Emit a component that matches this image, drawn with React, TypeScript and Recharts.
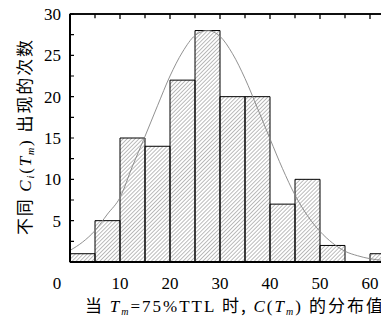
import { ComposedChart, Bar, Line, XAxis, YAxis } from 'recharts'

// histogram bins (lower edge) and how many times each value occurred
const binStarts = [0, 5, 10, 15, 20, 25, 30, 35, 40, 45, 50, 55, 60]
const counts = [1, 5, 15, 14, 22, 28, 20, 20, 7, 10, 2, 0, 1]

// fitted curve
const curveX = [0, 2.5, 5, 7.5, 10, 12.5, 15, 17.5, 20, 22.5, 25, 27.5, 30, 32.5, 35, 37.5, 40, 42.5, 45, 47.5, 50, 52.5, 55, 57.5, 60, 62.5, 65]
const curveY = [1.4, 2.4, 3.8, 5.8, 7.8, 11.6, 15.2, 18.9, 22.5, 25.4, 27.4, 28, 27.3, 25.2, 22.2, 18.6, 14.9, 11.3, 8.1, 5.6, 3.7, 2.3, 1.3, 0.76, 0.4, 0.2, 0.1]

const xTicks = [0, 10, 20, 30, 40, 50, 60]
const topTicks = [5, 10, 15, 20, 25, 30, 35, 40, 45, 50, 55, 60]
const yTicks = [0, 2.5, 5, 7.5, 10, 12.5, 15, 17.5, 20, 22.5, 25, 27.5, 30]

const X_MAX = 65
const Y_MAX = 30

const SERIF = '"Liberation Serif", "DejaVu Serif", serif'
const CJK = '"Noto Sans CJK SC", sans-serif'

const bins = binStarts.map((b, i) => ({ bin: `${b}-${b + 5}`, count: counts[i] }))
const curve = curveX.map((x, i) => ({ x, y: curveY[i] }))

// frame lines + inward tick combs, drawn as line series through the axes
const leftFrame = [{ x: 0, y: 0 }, { x: 0, y: Y_MAX }]
const bottomFrame = [{ x: 0, y: 0 }, { x: X_MAX, y: 0 }]
const leftTicks = yTicks.flatMap((v) => [{ x: 0, y: v }, { x: 0.8, y: v }, { x: 0, y: v }])
const topFrame = [
  { x: 0, y: Y_MAX },
  ...topTicks.flatMap((v) => [
    { x: v, y: Y_MAX },
    { x: v, y: v % 10 === 0 ? Y_MAX - 0.6 : Y_MAX - 0.5 },
    { x: v, y: Y_MAX },
  ]),
  { x: X_MAX, y: Y_MAX },
]

const XTick = (props: any) => {
  const { x, y, payload } = props
  // the "0" sits off to the left in the original
  const dx = payload.value === 0 ? -13 : 0
  return (
    <text x={x + dx} y={y + 13.5} dy="0.71em" textAnchor="middle" fontFamily={SERIF} fontSize={17} fill="#000">
      {payload.value}
    </text>
  )
}

const YTick = (props: any) => {
  const { x, y, payload } = props
  if (payload.value === 0 || payload.value % 5 !== 0) return <g />
  return (
    <text x={x - 9} y={y} dy="0.35em" textAnchor="end" fontFamily={SERIF} fontSize={17} fill="#000">
      {payload.value}
    </text>
  )
}

const frameLine = (key: string, data: { x: number; y: number }[], width: number) => (
  <Line
    key={key}
    xAxisId="num"
    data={data}
    dataKey="y"
    type="linear"
    stroke="#000"
    strokeWidth={width}
    dot={false}
    activeDot={false}
    legendType="none"
    isAnimationActive={false}
  />
)

export default function App() {
  return (
    <div style={{ position: 'relative', left: -8, top: -8, width: 389, height: 320, overflow: 'hidden' }}>
      <svg width={0} height={0} style={{ position: 'absolute' }}>
        <defs>
          <pattern id="hatch" width="2.8" height="2.8" patternUnits="userSpaceOnUse" patternTransform="rotate(45)">
            <line x1="0" y1="0" x2="0" y2="2.8" stroke="#4a4a4a" strokeWidth="0.75" />
          </pattern>
        </defs>
      </svg>
      <ComposedChart
        width={400}
        height={320}
        data={bins}
        margin={{ top: 13, right: 5, left: 0, bottom: 28 }}
        barCategoryGap={0}
        barGap={0}
      >
        <XAxis dataKey="bin" height={1} stroke="#000" strokeWidth={2} tickLine={false} tick={false} />
        <XAxis
          xAxisId="num"
          dataKey="x"
          type="number"
          domain={[0, X_MAX]}
          ticks={xTicks}
          height={29}
          axisLine={false}
          tickLine={false}
          tickSize={0}
          tickMargin={0}
          tick={<XTick />}
        />
        <XAxis
          xAxisId="top"
          orientation="top"
          type="number"
          domain={[0, X_MAX]}
          ticks={topTicks}
          height={1}
          stroke="#000"
          strokeWidth={1.5}
          tickLine={false}
          tick={false}
        />
        <YAxis
          domain={[0, Y_MAX]}
          ticks={yTicks}
          width={70}
          stroke="#000"
          strokeWidth={2}
          tickLine={false}
          tickSize={0}
          tickMargin={0}
          tick={<YTick />}
        />
        <Bar dataKey="count" fill="url(#hatch)" stroke="#000" strokeWidth={1} isAnimationActive={false} />
        <Line
          xAxisId="num"
          data={curve}
          dataKey="y"
          type="monotone"
          stroke="#858585"
          strokeWidth={0.9}
          dot={false}
          activeDot={false}
          isAnimationActive={false}
        />
        {frameLine('ticksLeft', leftTicks, 1.1)}
        {frameLine('frameTop', topFrame, 1.3)}
        {frameLine('frameLeft', leftFrame, 2)}
        {frameLine('frameBottom', bottomFrame, 2)}
      </ComposedChart>
      <svg width={389} height={320} style={{ position: 'absolute', left: 0, top: 0, pointerEvents: 'none' }}>
        <text
          transform="translate(31, 137.5) rotate(-90)"
          textAnchor="middle"
          fontSize={17}
          fill="#000"
          textLength={195}
          lengthAdjust="spacing"
        >
          <tspan fontFamily={CJK}>不同 </tspan>
          <tspan fontFamily={SERIF} fontStyle="italic">C</tspan>
          <tspan fontFamily={SERIF} fontStyle="italic" fontSize={10} dy={3}>i</tspan>
          <tspan fontFamily={SERIF} dy={-3}>(</tspan>
          <tspan fontFamily={SERIF} fontStyle="italic">T</tspan>
          <tspan fontFamily={SERIF} fontStyle="italic" fontSize={10} dy={3}>m</tspan>
          <tspan fontFamily={SERIF} dy={-3}>) </tspan>
          <tspan fontFamily={CJK}>出现的次数</tspan>
        </text>
        <text
          x={234}
          y={312}
          textAnchor="middle"
          fontSize={17}
          fill="#000"
          textLength={298}
          lengthAdjust="spacing"
        >
          <tspan fontFamily={CJK}>当 </tspan>
          <tspan fontFamily={SERIF} fontStyle="italic">T</tspan>
          <tspan fontFamily={SERIF} fontStyle="italic" fontSize={10} dy={3}>m</tspan>
          <tspan fontFamily={SERIF} dy={-3}>=75%TTL </tspan>
          <tspan fontFamily={CJK}>时, </tspan>
          <tspan fontFamily={SERIF} fontStyle="italic">C</tspan>
          <tspan fontFamily={SERIF}>(</tspan>
          <tspan fontFamily={SERIF} fontStyle="italic">T</tspan>
          <tspan fontFamily={SERIF} fontStyle="italic" fontSize={10} dy={3}>m</tspan>
          <tspan fontFamily={SERIF} dy={-3}>) </tspan>
          <tspan fontFamily={CJK}>的分布值</tspan>
        </text>
      </svg>
    </div>
  )
}
